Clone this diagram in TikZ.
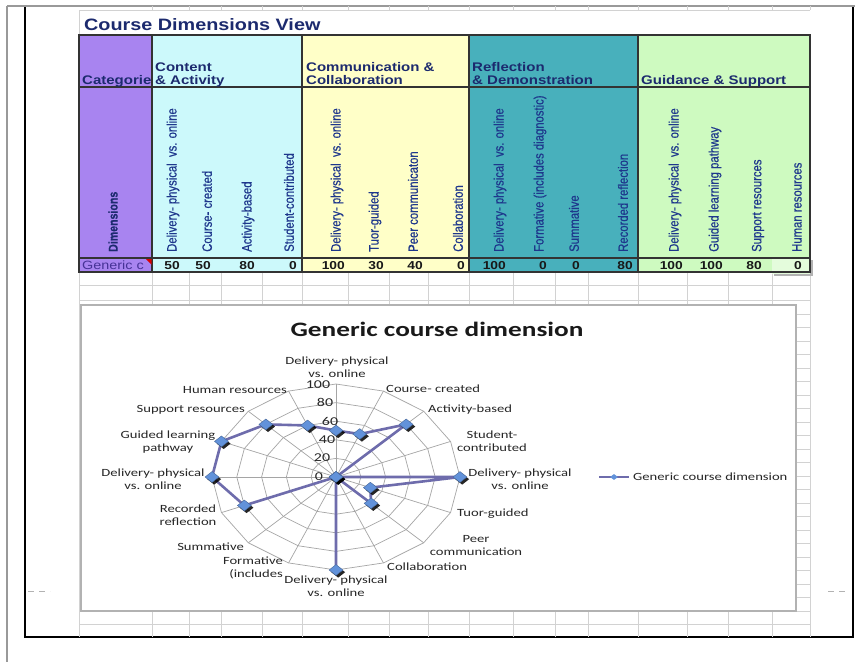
\documentclass[tikz,border=0pt]{standalone}
\usepackage{fontspec}
\usepackage{graphicx}
\usetikzlibrary{shapes.geometric,shadows}
\setmainfont{Liberation Sans}
\newfontfamily\tabF[FakeStretch=1.2]{Liberation Sans}
\newfontfamily\rotF[FakeBold=0.6]{Liberation Sans}
\newfontfamily\chF[FakeStretch=1.33]{Carlito}
\definecolor{purp}{RGB}{168,132,240}
\definecolor{cyanc}{RGB}{204,249,251}
\definecolor{yell}{RGB}{255,255,200}
\definecolor{teal2}{RGB}{72,176,188}
\definecolor{grn}{RGB}{206,250,192}
\definecolor{navy}{RGB}{28,42,110}
\definecolor{rotblue}{RGB}{30,55,140}
\definecolor{gridc}{RGB}{210,210,210}
\definecolor{chgrid}{RGB}{165,165,165}
\definecolor{series}{RGB}{110,108,172}
\definecolor{mkblue}{RGB}{98,146,218}
\definecolor{gentxt}{RGB}{70,50,150}
\newcommand{\rl}[1]{\scalebox{1.2}[1]{\rotatebox{90}{\rotF\fontsize{11.3}{13}\selectfont #1}}}
\newcommand{\rlb}[1]{\scalebox{1.2}[1]{\rotatebox{90}{\rotF\bfseries\fontsize{10.6}{12}\selectfont #1}}}
\tikzset{
  tabline/.style={draw=black!80, line width=1.3pt},
  gridln/.style={draw=gridc, line width=0.8pt},
  hd/.style={anchor=base west, inner sep=0, text=navy, font=\tabF\bfseries\fontsize{12.5}{14}\selectfont},
  rot/.style={anchor=south, inner sep=0, text=rotblue},
  num/.style={anchor=base east, inner sep=0, text=black!90, font=\tabF\bfseries\fontsize{11.5}{13}\selectfont},
  clab/.style={inner sep=0, align=center, text=black!85, font=\chF\fontsize{11}{13}\selectfont},
  tick/.style={inner sep=0, text=black!85, font=\chF\fontsize{12}{13}\selectfont},
  mkr/.style={shape=diamond, inner sep=0pt, minimum width=14pt, minimum height=11pt, fill=mkblue, draw=mkblue!70!black, line width=0.4pt,
     drop shadow={shadow xshift=2.2pt, shadow yshift=-2.2pt, fill=black, opacity=0.85}},
  serline/.style={draw=series, line width=2.6pt, line join=round}
}
\begin{document}
\begin{tikzpicture}[x=1pt,y=-1pt]
\useasboundingbox (0,0) rectangle (860,662);
\fill[white] (0,0) rectangle (860,662);
% outer frame
\draw[black!40, line width=1.6pt] (7,6) -- (855,6);
\draw[black!40, line width=1.6pt] (7,6) -- (7,662);
\draw[black, line width=1.8pt] (25,7) -- (25,637) -- (853,637) -- (853,7);
% title row faint grid
\draw[gridln] (79,10) -- (810,10);
\draw[gridln] (79,10) -- (79,35);
\foreach \x in {152,189,221,262,302,348,389,428,469,513,555,588,638,687,728,772,810}
  \draw[gridln] (\x,6) -- (\x,10);
\node[anchor=base west, inner sep=0, text=navy, font=\tabF\bfseries\fontsize{16.5}{18}\selectfont] (title) at (84,30) {Course Dimensions View};
% background grid below table
\foreach \y in {285,300.5} \draw[gridln] (79,\y) -- (810,\y);
\foreach \x in {79,152,189,221,262,302,348,389,428,469,513,555,588,638,687,728,772,810} {
  \draw[gridln] (\x,272) -- (\x,305);
  \draw[gridln] (\x,611) -- (\x,637);
}
\draw[gridln] (79,624.5) -- (810,624.5);
\foreach \k in {0,...,23} \draw[gridln] (796,{300.5+13.5*\k}) -- (810,{300.5+13.5*\k});
\draw[gridln] (810,272) -- (810,637);
\draw[gridln] (79,272) -- (79,637);
% table fills
\fill[purp] (79,35) rectangle (152,272);
\fill[cyanc] (152,35) rectangle (302,272);
\fill[yell] (302,35) rectangle (469,272);
\fill[teal2] (469,35) rectangle (638,272);
\fill[grn] (638,35) rectangle (810,272);
% selected cell
\fill[black!30] (774,260) rectangle (813,276);
\fill[grn!55!white] (772,258) rectangle (810,273.5);
% table borders
\draw[tabline] (79,35) rectangle (810,272);
\draw[tabline] (79,87) -- (810,87);
\draw[tabline] (79,258) -- (810,258);
\foreach \x in {152,302,469,638} \draw[tabline] (\x,35) -- (\x,272);
\fill[red!85!black] (146,259) -- (151.5,259) -- (151.5,264.5) -- cycle;
% header texts
\node[hd] (cat) at (82,84) {Categorie};
\node[hd] (h1a) at (155,71.5) {Content};
\node[hd] (h1b) at (155,84.5) {\& Activity};
\node[hd] (h2a) at (306,71.5) {Communication \&};
\node[hd] (h2b) at (306,84.5) {Collaboration};
\node[hd] (h3a) at (472,71) {Reflection};
\node[hd] (h3b) at (472,84.5) {\& Demonstration};
\node[hd] (h4a) at (641,84.5) {Guidance \& Support};
% rotated dimension labels
\node[rot, text=navy] (dim) at (113,252) {\rlb{Dimensions}};
\node[rot] (r1) at (173,252) {\rl{Delivery- physical\ \ vs. online}};
\node[rot] (r2) at (207,252) {\rl{Course- created}};
\node[rot] (r3) at (248,252) {\rl{Activity-based}};
\node[rot] (r4) at (289,252) {\rl{Student-contributed}};
\node[rot] (r5) at (337,252) {\rl{Delivery- physical\ \ vs. online}};
\node[rot] (r6) at (375,252) {\rl{Tuor-guided}};
\node[rot] (r7) at (413,252) {\rl{Peer communicaton}};
\node[rot] (r8) at (458,252) {\rl{Collaboration}};
\node[rot] (r9) at (500,252) {\rl{Delivery- physical\ \ vs. online}};
\node[rot] (r10) at (540,252) {\rl{Formative (includes diagnostic)}};
\node[rot] (r11) at (574,252) {\rl{Summative}};
\node[rot] (r12) at (623,252) {\rl{Recorded reflection}};
\node[rot] (r13) at (675,252) {\rl{Delivery- physical\ \ vs. online}};
\node[rot] (r14) at (715,252) {\rl{Guided learning pathway}};
\node[rot] (r15) at (758,252) {\rl{Support resources}};
\node[rot] (r16) at (797,252) {\rl{Human resources}};
% data row
\node[anchor=base west, inner sep=0, text=gentxt, font=\tabF\fontsize{12}{13}\selectfont] (gen) at (82,269) {Generic c};
\foreach \x/\v [count=\i] in {180/50,211/50,255/80,297/0,345/100,384/30,423/40,465/0,506/100,547/0,580/0,633/80,683/100,723/100,762/80,802/0}
  \node[num] (n\i) at (\x,269) {\v};
% chart box
\draw[fill=white, draw=black!30, line width=1.3pt] (81,305) rectangle (796,611);
\node[inner sep=0, text=black!90, font=\chF\bfseries\fontsize{20.5}{22}\selectfont] (ctitle) at (437,329) {Generic course dimension};
% radar grid
\coordinate (ctr) at (336,477);
\foreach \r in {20,40,60,80,100}
  \draw[chgrid, line width=0.7pt] ({336+1.24*\r*cos(90)},{477-0.93*\r*sin(90)})
    \foreach \k in {1,...,15} { -- ({336+1.24*\r*cos(90-22.5*\k)},{477-0.93*\r*sin(90-22.5*\k)}) } -- cycle;
\foreach \k in {0,...,15}
  \draw[chgrid, line width=0.7pt] (ctr) -- ({336+124*cos(90-22.5*\k)},{477-93*sin(90-22.5*\k)});
% ticks
\node[tick] (t100) at (318,385) {100};
\node[tick] (t80) at (325,402) {80};
\node[tick] (t60) at (330,421) {60};
\node[tick] (t40) at (327,440) {40};
\node[tick] (t20) at (322,458) {20};
\node[tick] (t0) at (319,477) {0};
% category labels
\node[clab] (c0) at (337,367) {Delivery- physical\\vs. online};
\node[clab, anchor=west] (c1) at (386,389) {Course- created};
\node[clab, anchor=west] (c2) at (428,410) {Activity-based};
\node[clab] (c3) at (492,441.5) {Student-\\contributed};
\node[clab] (c4) at (520,479) {Delivery- physical\\vs. online};
\node[clab, anchor=west] (c5) at (457,514) {Tuor-guided};
\node[clab] (c6) at (476,546) {Peer\\communication};
\node[clab, anchor=west] (c7) at (387,567) {Collaboration};
\node[clab] (c8) at (336,586) {Delivery- physical\\vs. online};
\node[clab, anchor=east, align=right] (c9) at (283,567.5) {Formative\\(includes};
\node[clab, anchor=east] (c10) at (244,547) {Summative};
\node[clab] (c11) at (188,515.5) {Recorded\\reflection};
\node[clab] (c12) at (153,479.5) {Delivery- physical\\vs. online};
\node[clab] (c13) at (168,442) {Guided learning\\pathway};
\node[clab, anchor=east] (c14) at (245,410) {Support resources};
\node[clab, anchor=east] (c15) at (287,390) {Human resources};
% series
\foreach \v [count=\k from 0] in {50,50,80,0,100,30,40,0,100,0,0,80,100,100,80,60}
  \coordinate (p\k) at ({336+1.24*\v*cos(90-22.5*\k)},{477-0.93*\v*sin(90-22.5*\k)});
\draw[serline] (p0) \foreach \k in {1,...,15} { -- (p\k) } -- cycle;
\foreach \k in {0,...,15} \node[mkr] (m\k) at (p\k) {};
% legend
\coordinate (lg1) at (599,477);
\coordinate (lg2) at (629,477);
\draw[draw=series, line width=2pt] (lg1) -- (lg2);
\node[shape=diamond, inner sep=0pt, minimum width=8pt, minimum height=6pt, fill=mkblue] (lgm) at (614,477) {};
\node[clab, anchor=west] (lgt) at (633,477) {Generic course dimension};
% page-break dashes
\draw[black!30, line width=0.9pt, dash pattern=on 6pt off 5pt] (28,591) -- (50,591);
\draw[black!30, line width=0.9pt, dash pattern=on 6pt off 5pt] (828,591) -- (849,591);
\end{tikzpicture}
\end{document}
